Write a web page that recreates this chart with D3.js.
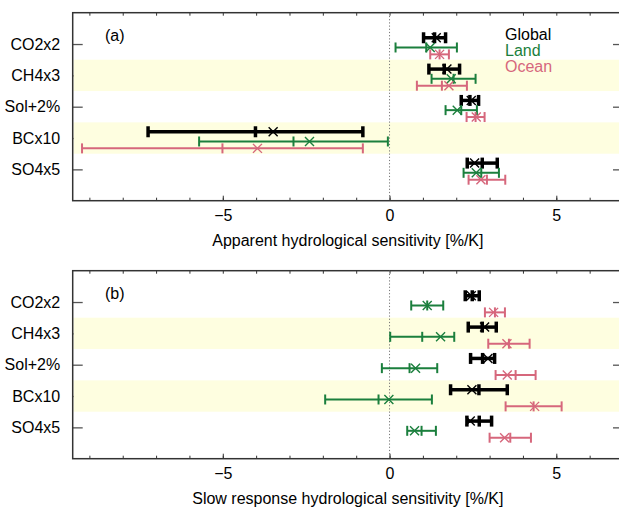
<!DOCTYPE html>
<html>
<head>
<meta charset="utf-8">
<script src="https://cdn.jsdelivr.net/npm/d3@7"></script>
<style>
  html, body { margin: 0; padding: 0; background: #fff; }
  svg { display: block; }
  text { font-family: "Liberation Sans", Arial, Helvetica, sans-serif; }
</style>
</head>
<body>
<svg id="chart" width="619" height="507"></svg>
<script>
// ---- data ----
const categories = ["CO2x2", "CH4x3", "Sol+2%", "BCx10", "SO4x5"];
const seriesNames = ["Global", "Land", "Ocean"];
const seriesColors = ["#000000", "#1b7f3d", "#d6677c"];
const xMajorTicks = [-5, 0, 5];
const xMinorTicks = [-9, -8, -7, -6, -5, -4, -3, -2, -1, 0, 1, 2, 3, 4, 5, 6];
const panelLabels = ["(a)", "(b)"];
const panelTitles = ["Apparent hydrological sensitivity [%/K]", "Slow response hydrological sensitivity [%/K]"];

// each entry: [centre, half-width, marker (x)]
const apparentGlobal = [[1.35, 0.33, 1.40], [1.64, 0.46, 1.72], [2.41, 0.26, 2.45], [-4.02, 3.22, -3.49], [2.78, 0.45, 2.55]];
const apparentLand   = [[1.10, 0.92, 1.22], [1.92, 0.66, 1.85], [2.15, 0.47, 2.03], [-2.88, 2.83, -2.40], [2.75, 0.53, 2.60]];
const apparentOcean  = [[1.50, 0.28, 1.50], [1.57, 0.75, 1.78], [2.58, 0.27, 2.60], [-5.01, 4.21, -3.96], [2.92, 0.55, 2.74]];

const slowGlobal = [[2.48, 0.21, 2.45], [2.78, 0.42, 2.85], [2.79, 0.36, 2.95], [2.68, 0.85, 2.47], [2.69, 0.37, 2.42]];
const slowLand   = [[1.13, 0.48, 1.13], [0.98, 0.96, 1.53], [0.60, 0.83, 0.78], [-0.33, 1.60, -0.02], [0.96, 0.43, 0.75]];
const slowOcean  = [[3.16, 0.30, 3.12], [3.58, 0.62, 3.52], [3.78, 0.60, 3.53], [4.32, 0.84, 4.35], [3.62, 0.62, 3.45]];

// ---- layout ----
const svg = d3.select("#chart");
const x0 = 72.7, x1 = 623;
const x = d3.scaleLinear().domain([-9.5, 7]).range([x0, x1]);
const FONT = 16;
const seriesOffset = [-0.2, 0.11, 0.33];
const seriesStyle = [
  { lw: 3.5, cap: 11 },
  { lw: 2, cap: 10 },
  { lw: 2, cap: 10 }
];
const frameColor = "#333";

const panels = [
  { top: 12.7, bottom: 200.7, label: panelLabels[0], title: panelTitles[0], data: [apparentGlobal, apparentLand, apparentOcean], legend: true },
  { top: 270.7, bottom: 458.7, label: panelLabels[1], title: panelTitles[1], data: [slowGlobal, slowLand, slowOcean], legend: false }
];

const fmt = d => (d < 0 ? "\u2212" + Math.abs(d) : String(d));

panels.forEach(p => {
  const g = svg.append("g");
  const y = d3.scaleLinear().domain([0, 6]).range([p.top, p.bottom]);
  const rowVals = categories.map((c, i) => i + 1);

  // bottom minor ticks
  g.append("g").attr("transform", `translate(0,${p.bottom})`)
    .call(d3.axisBottom(x).tickValues(xMinorTicks).tickSize(-3).tickSizeOuter(0).tickFormat(""))
    .call(a => a.select(".domain").remove())
    .call(a => a.selectAll("line").attr("stroke", frameColor).attr("stroke-width", 1));
  // bottom major ticks + labels
  g.append("g").attr("transform", `translate(0,${p.bottom})`)
    .call(d3.axisBottom(x).tickValues(xMajorTicks).tickSize(-5).tickSizeOuter(0).tickPadding(9).tickFormat(fmt))
    .call(a => a.select(".domain").remove())
    .call(a => a.selectAll("line").attr("stroke", frameColor).attr("stroke-width", 1))
    .call(a => a.selectAll("text").attr("font-size", FONT).attr("fill", "#000")
      .attr("font-family", '"Liberation Sans", Arial, sans-serif'));
  // top ticks
  g.append("g").attr("transform", `translate(0,${p.top})`)
    .call(d3.axisTop(x).tickValues(xMinorTicks).tickSize(-3).tickSizeOuter(0).tickFormat(""))
    .call(a => a.select(".domain").remove())
    .call(a => a.selectAll("line").attr("stroke", frameColor).attr("stroke-width", 1));
  // left ticks + category labels
  g.append("g").attr("transform", `translate(${x0},0)`)
    .call(d3.axisLeft(y).tickValues(rowVals).tickSize(-10).tickSizeOuter(0).tickPadding(12.5)
      .tickFormat((d, i) => categories[i]))
    .call(a => a.select(".domain").remove())
    .call(a => a.selectAll("line").attr("stroke", "#555").attr("stroke-width", 1.3))
    .call(a => a.selectAll("text").attr("font-size", FONT).attr("fill", "#000")
      .attr("font-family", '"Liberation Sans", Arial, sans-serif'));
  // right ticks
  g.append("g").attr("transform", `translate(${x1},0)`)
    .call(d3.axisRight(y).tickValues(rowVals).tickSize(-10).tickSizeOuter(0).tickFormat(""))
    .call(a => a.select(".domain").remove())
    .call(a => a.selectAll("line").attr("stroke", "#555").attr("stroke-width", 1.3));

  // yellow bands on alternate rows
  g.append("g").selectAll("rect")
    .data(categories.map((c, i) => i).filter(i => i % 2 === 1))
    .join("rect")
    .attr("x", x0 + 0.8)
    .attr("width", x1 - x0 - 0.8)
    .attr("y", i => y(i + 0.5))
    .attr("height", i => y(i + 1.5) - y(i + 0.5))
    .attr("fill", "#fefee0");

  // frame
  g.append("rect")
    .attr("x", x0).attr("y", p.top)
    .attr("width", x1 - x0).attr("height", p.bottom - p.top)
    .attr("fill", "none").attr("stroke", frameColor).attr("stroke-width", 1.5);

  // zero dotted line
  g.append("line")
    .attr("x1", x(0)).attr("x2", x(0))
    .attr("y1", p.top).attr("y2", p.bottom)
    .attr("stroke", "#777").attr("stroke-width", 1)
    .attr("stroke-dasharray", "1.2,2");

  // error bars
  p.data.forEach((arr, s) => {
    const col = seriesColors[s];
    const st = seriesStyle[s];
    const sg = g.append("g").attr("stroke", col).attr("fill", "none");
    arr.forEach((d, i) => {
      const [c, e, m] = d;
      const yy = y(i + 1 + seriesOffset[s]);
      sg.append("line")
        .attr("x1", x(c - e)).attr("x2", x(c + e))
        .attr("y1", yy).attr("y2", yy)
        .attr("stroke-width", st.lw);
      [c - e, c, c + e].forEach(v => {
        sg.append("line")
          .attr("x1", x(v)).attr("x2", x(v))
          .attr("y1", yy - st.cap / 2).attr("y2", yy + st.cap / 2)
          .attr("stroke-width", st.lw);
      });
      const r = 4.5;
      sg.append("path")
        .attr("d", `M${x(m) - r},${yy - r}L${x(m) + r},${yy + r}M${x(m) - r},${yy + r}L${x(m) + r},${yy - r}`)
        .attr("stroke-width", 1.4);
    });
  });

  // panel label
  g.append("text")
    .attr("x", 105).attr("y", p.top + 28)
    .attr("font-size", FONT).attr("fill", "#000")
    .text(p.label);

  // axis title
  g.append("text")
    .attr("x", (x0 + x1) / 2).attr("y", p.bottom + 45)
    .attr("text-anchor", "middle")
    .attr("font-size", FONT).attr("fill", "#000")
    .text(p.title);

  // legend
  if (p.legend) {
    seriesNames.forEach((n, s) => {
      g.append("text")
        .attr("x", 505).attr("y", 40 + s * 16)
        .attr("font-size", FONT).attr("fill", seriesColors[s])
        .text(n);
    });
  }
});
</script>
</body>
</html>
